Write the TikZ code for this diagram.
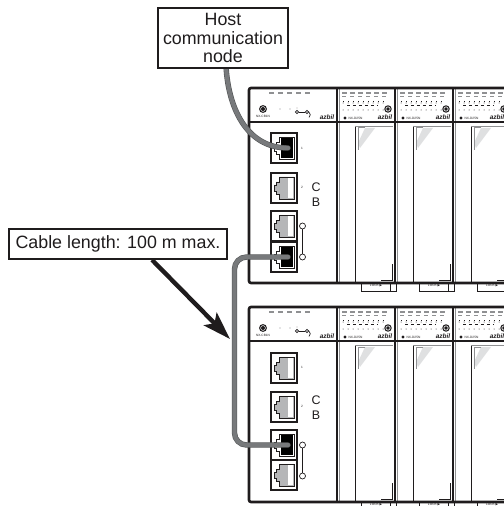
\documentclass[tikz,border=0pt]{standalone}
\usepackage{xcolor}
\usepackage{fontspec}
\setmainfont{Liberation Sans}
\newfontfamily\symfont{DejaVu Sans}
\usetikzlibrary{arrows.meta}
\definecolor{frameBlack}{HTML}{1F1C1D}
\definecolor{cableGray}{HTML}{77797B}
\definecolor{patchGray}{HTML}{B5B6B8}
\definecolor{hatchGray}{HTML}{DFE0E1}
\definecolor{dashGray}{HTML}{8F9092}

\tikzset{
  callbox/.style={rectangle, draw=frameBlack, line width=1.7bp, fill=white, align=center,
                  text=frameBlack, inner sep=0pt, font=\fontsize{17.9}{18.2}\selectfont},
  cable/.style={draw=cableGray!70!black, line width=0.6bp, double=cableGray, double distance=4.2bp, line cap=round},
  callarrow/.style={-{Stealth[length=28bp, width=18bp, inset=6bp]}, frameBlack, line width=4.4bp},
  framed/.style={draw=frameBlack, line width=2.6bp},
  tinylabel/.style={inner sep=0pt, text=frameBlack, font=\fontsize{3.2}{3.4}\selectfont},
  logolabel/.style={inner sep=0pt, text=frameBlack, font=\fontsize{6.5}{7}\selectfont\bfseries\itshape},
  sidelabel/.style={inner sep=0pt, text=frameBlack, font=\fontsize{12.5}{13}\selectfont},
  leddash/.style={draw=dashGray, line width=1.8bp},
  pics/rjport/.style={code={
    \draw[frameBlack, line width=1.5bp, fill=white] (0,0) rectangle (26,30);
    \draw[frameBlack, line width=0.7bp, fill=#1] (8,4) -- (23,4) -- (23,26) -- (8,26) -- (8,21) -- (5,21)
      -- (5,18) -- (3,18) -- (3,12) -- (5,12) -- (5,9) -- (8,9) -- cycle;
    \fill[white] (17,5) rectangle (21.5,25);
  }},
  pics/darkport/.style={code={
    \draw[frameBlack, line width=1.5bp, fill=white] (0,0) rectangle (26,30);
    \draw[frameBlack, line width=0.7bp] (8,4) -- (23,4) -- (23,26) -- (8,26) -- (8,21) -- (5,21)
      -- (5,18) -- (3,18) -- (3,12) -- (5,12) -- (5,9) -- (8,9) -- cycle;
    \fill[black] (10,5) rectangle (22,25);
  }},
  pics/iomodule/.style={code={
    % status lamps and terminal dots
    \foreach \lx in {5,13,21,29,37,45} {
      \draw[leddash] (\lx,5) -- ++(5,0);
      \draw[dashGray, line width=0.8bp] (\lx,8.5) -- ++(4,0);
    }
    \foreach \lx in {6,11,...,46} {
      \fill[frameBlack] (\lx,15) circle (0.5);
      \fill[frameBlack] (\lx,22) circle (0.5);
      \draw[frameBlack, line width=0.5bp] (\lx,13) -- ++(0,0.8);
    }
    \draw[frameBlack, line width=0.6bp, dashed] (10,17) -- (40,17);
    \draw[frameBlack, line width=1bp, fill=hatchGray] (51,21) circle (3.2);
    \fill[frameBlack] (51,21) circle (1.9);
    \fill[frameBlack] (8,30) circle (1.7);
    \node[tinylabel] (modname) at (18.5,30) {NX-D25N};
    \node[logolabel] (modlogo) at (#1,29) {azbil};
    % front cover
    \draw[frameBlack, line width=0.6bp] (18,38) -- (18,195);
    \draw[dashGray, line width=0.8bp] (18,38) -- (56,38);
    \fill[hatchGray] (28,40) -- (38,40) -- (23,60) -- (21,55) -- cycle;
    \draw[dashGray, line width=1bp] (28,40) -- (21,40) -- (21,62);
    \draw[frameBlack, line width=0.5bp] (55,176) -- (55,192) -- (44,192);
    % lock tab
    \draw[frameBlack, line width=0.7bp] (24,195) -- (24,203) -- (59,203) -- (59,195);
    \draw[frameBlack, line width=0.7bp] (53,195) -- (53,203);
    \node[tinylabel] (modlock) at (39,197.6) {LOCK {\symfont ▶}};
  }},
  pics/commmodule/.style={code={
    \foreach \lx in {20,29,38,47,56} {
      \draw[leddash] (\lx,5) -- ++(5,0);
    }
    \draw[frameBlack, line width=1bp, fill=hatchGray] (14,21) circle (3.4);
    \fill[frameBlack] (14,21) circle (2);
    \node[tinylabel] (commname) at (14,28.5) {NX-CB1N};
    \fill[dashGray] (31,21) circle (0.6);
    \fill[dashGray] (41,21) circle (0.6);
    \draw[frameBlack, line width=0.7bp, fill=white] (48,24) circle (1.6);
    \draw[frameBlack, line width=0.7bp, fill=white] (58,24) circle (1.6);
    \draw[frameBlack, line width=0.7bp] (49.6,24) -- (56.4,24);
    \draw[frameBlack, line width=0.7bp] (59.5,23.5) arc (-60:50:3.6);
    \fill[frameBlack] (48,20) circle (0.4);
    \node[logolabel] (commlogo) at (78,29) {azbil};
    \draw[frameBlack, line width=1.4bp] (0,34) -- (88,34);
    \node[tinylabel] at (53,60) {1};
    \node[tinylabel] at (53,99) {2};
    % coupling link
    \draw[frameBlack, line width=0.7bp] (53.5,138) -- (53.5,169);
    \draw[frameBlack, line width=0.7bp, fill=white] (53.5,138) circle (3);
    \draw[frameBlack, line width=0.7bp, fill=white] (53.5,169) circle (3);
  }},
  pics/rackunit/.style={code={
    \pic at (0,0) {commmodule};
    \foreach \mx/\lg in {88/48,146/48,204/44} {
      \pic at (\mx,0) {iomodule=\lg};
      \draw[frameBlack, line width=2.8bp] (\mx,0) -- (\mx,195);
      \draw[dashGray, line width=0.8bp] (\mx+2,0) -- (\mx+2,195);
      \draw[frameBlack, line width=1.4bp] (\mx,34) -- (\mx+58,34);
    }
    \draw[framed, rounded corners=2bp] (262,195) -- (0,195) -- (0,0) -- (262,0);
  }},
}

\begin{document}
\begin{tikzpicture}[x=1bp, y=-1bp]
  \useasboundingbox (0,0) rectangle (504,506);

  \begin{scope}
    \clip (0,0) rectangle (504,506);
    % upper and lower rack
    \pic at (249,88) {rackunit};
    \pic at (249,307) {rackunit};
  \end{scope}

  % ports, upper rack
  \pic at (271,133) {darkport};
  \pic at (271,173) {rjport=patchGray};
  \pic at (271,211) {rjport=patchGray};
  \pic at (271,242) {darkport};
  % ports, lower rack
  \pic at (271,353) {rjport=patchGray};
  \pic at (271,392) {rjport=patchGray};
  \pic at (271,430) {darkport};
  \pic at (271,460) {rjport=patchGray};

  \node[sidelabel] (cupper) at (316,187) {C};
  \node[sidelabel] (bupper) at (316,202) {B};
  \node[sidelabel] (clower) at (316,400) {C};
  \node[sidelabel] (blower) at (316,415) {B};

  \coordinate (plughost) at (288,148);
  \coordinate (plugupper) at (288,257);
  \coordinate (pluglower) at (288,445);
  \coordinate (cablebend) at (234.5,257);
  \coordinate (cablefoot) at (234.5,445);
  \coordinate (arrowtip) at (230,339);

  % cables
  \draw[cable] (226,66) .. controls (228,105) and (245,148) .. (plughost);
  \draw[cable, rounded corners=12bp] (plugupper) -- (cablebend) -- (cablefoot) -- (pluglower);

  % callouts
  \node[callbox, minimum width=130bp, minimum height=60bp] (hostnode) at (223,38)
    {Host\\communication\\node};
  \node[callbox, minimum width=218bp, minimum height=30bp] (lengthnode) at (118,244)
    {Cable length: 100 m max.};
  \draw[callarrow] ([xshift=34bp]lengthnode.south) -- (arrowtip);
\end{tikzpicture}
\end{document}
